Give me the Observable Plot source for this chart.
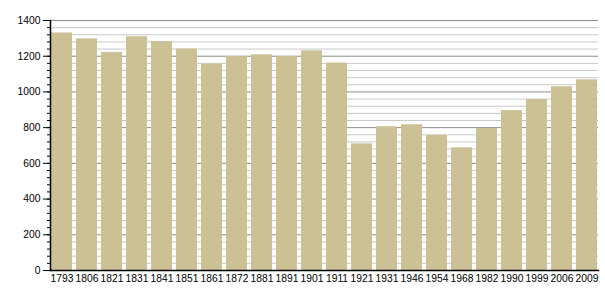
<!DOCTYPE html>
<html>
<head>
<meta charset="utf-8">
<script src="https://cdn.jsdelivr.net/npm/d3@7"></script>
<script src="https://cdn.jsdelivr.net/npm/@observablehq/plot@0.6"></script>
<style>
  html, body { margin: 0; padding: 0; background: #fff; }
  #chart svg { display: block; }
</style>
</head>
<body>
<div id="chart"></div>
<script>
const years = ["1793","1806","1821","1831","1841","1851","1861","1872","1881","1891","1901","1911","1921","1931","1946","1954","1968","1982","1990","1999","2006","2009"];
const population = [1330,1297,1221,1309,1282,1240,1156,1198,1208,1198,1230,1161,709,805,816,756,687,795,896,958,1029,1068];
const yMajorTicks = [0,200,400,600,800,1000,1200,1400];
const yMinorTicks = [0,40,80,120,160,200,240,280,320,360,400,440,480,520,560,600,640,680,720,760,800,840,880,920,960,1000,1040,1080,1120,1160,1200,1240,1280,1320,1360,1400];

const data = years.map((y, i) => ({year: y, value: population[i]}));
const lightGrid = yMinorTicks.filter(v => v > 0 && !yMajorTicks.includes(v));
const darkGrid = yMajorTicks.filter(v => v > 0);

const chart = Plot.plot({
  width: 605,
  height: 300,
  marginLeft: 50,
  marginRight: 7,
  marginTop: 20,
  marginBottom: 30,
  style: {fontFamily: "'Liberation Sans', Arial, sans-serif", fontSize: "10.3px", color: "#000", background: "#fff"},
  x: {domain: years, paddingInner: 0.16, paddingOuter: 0.04, label: null},
  y: {domain: [0, 1400], label: null},
  marks: [
    Plot.ruleY(lightGrid, {stroke: "#c8c8c8", strokeWidth: 1}),
    Plot.ruleY(darkGrid, {stroke: "#8c8c8c", strokeWidth: 1}),
    Plot.barY(data, {x: "year", y: "value", fill: "#cbc195"}),
    Plot.axisY({ticks: yMinorTicks, tickSize: 3, tickFormat: () => "", stroke: "#000"}),
    Plot.axisY({ticks: yMajorTicks, tickSize: 7, tickPadding: 3, tickFormat: d3.format("d"), stroke: "#000", fill: "#000", label: null}),
    Plot.axisX({tickSize: 0, tickPadding: 4, fill: "#000", label: null}),
    Plot.frame({anchor: "left", stroke: "#000", strokeWidth: 1.5}),
    Plot.frame({anchor: "bottom", stroke: "#000", strokeWidth: 1.5})
  ]
});
document.getElementById("chart").appendChild(chart);
</script>
</body>
</html>
